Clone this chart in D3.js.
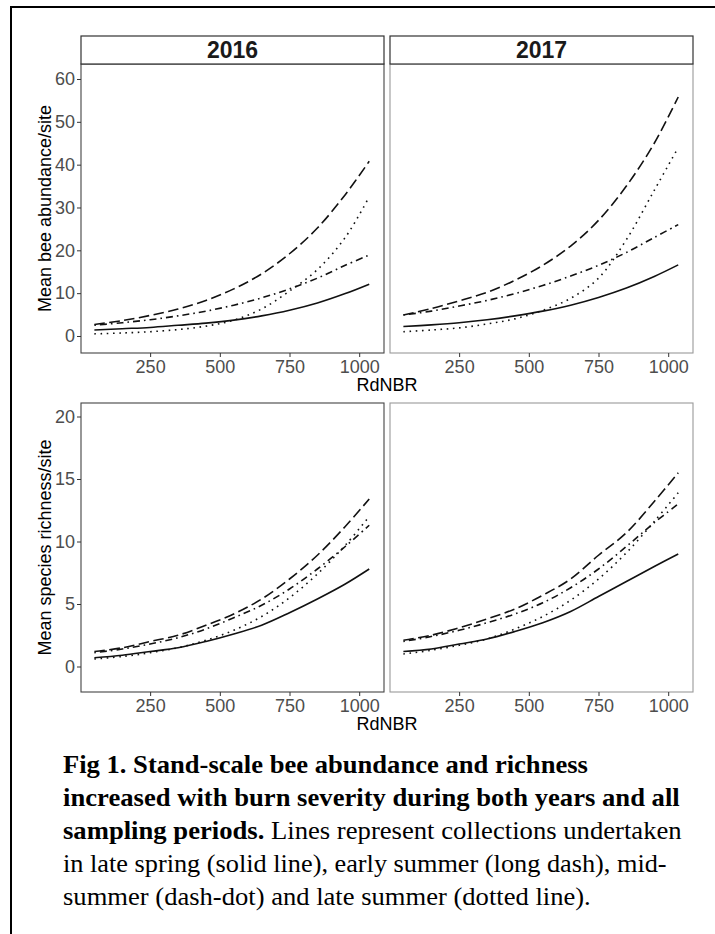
<!DOCTYPE html>
<html>
<head>
<meta charset="utf-8">
<script src="https://cdn.jsdelivr.net/npm/d3@7"></script>
<style>
  html, body { margin: 0; padding: 0; background: #fff; }
  svg { display: block; }
</style>
</head>
<body>
<div id="chart"></div>
<script>
// valores (RdNBR vs. media por sitio)
const rdnbr = [50, 150, 250, 350, 450, 550, 650, 750, 850, 950, 1036];
const years = ['2016', '2017'];
const periods = ['lateSpring', 'earlySummer', 'midSummer', 'lateSummer'];
const xTicks = [250, 500, 750, 1000];
const abunTicks = [0, 10, 20, 30, 40, 50, 60];
const richTicks = [0, 5, 10, 15, 20];

const abun2016_lateSpring  = [1.4, 1.7, 2.0, 2.5, 3.0, 3.7, 4.7, 6.0, 7.7, 9.9, 12.1];
const abun2016_earlySummer = [2.7, 3.6, 4.8, 6.3, 8.3, 11.0, 14.5, 19.2, 25.2, 33.0, 40.8];
const abun2016_midSummer   = [2.5, 3.1, 3.8, 4.7, 5.8, 7.2, 8.9, 11.0, 13.5, 16.5, 18.9];
const abun2016_lateSummer  = [0.5, 0.7, 1.0, 1.5, 2.3, 3.7, 6.3, 10.5, 15.5, 23.0, 32.5];

const abun2017_lateSpring  = [2.2, 2.6, 3.1, 3.8, 4.7, 5.8, 7.2, 9.0, 11.2, 13.9, 16.6];
const abun2017_earlySummer = [4.9, 6.4, 8.2, 10.2, 13.0, 16.5, 21.0, 27.0, 35.0, 45.0, 55.8];
const abun2017_midSummer   = [4.9, 5.8, 7.0, 8.3, 9.9, 11.8, 14.0, 16.5, 19.5, 23.0, 26.0];
const abun2017_lateSummer  = [1.0, 1.4, 1.9, 2.8, 4.0, 6.0, 8.8, 13.5, 22.5, 34.0, 44.0];

const rich2016_lateSpring  = [0.7, 0.9, 1.2, 1.5, 2.0, 2.6, 3.3, 4.3, 5.4, 6.6, 7.8];
const rich2016_earlySummer = [1.2, 1.5, 2.0, 2.5, 3.3, 4.2, 5.4, 7.0, 8.9, 11.2, 13.4];
const rich2016_midSummer   = [1.1, 1.4, 1.8, 2.3, 3.0, 3.9, 4.9, 6.2, 7.8, 9.6, 11.3];
const rich2016_lateSummer  = [0.6, 0.8, 1.1, 1.5, 2.1, 2.9, 4.0, 5.5, 7.4, 9.7, 12.0];

const rich2017_lateSpring  = [1.2, 1.4, 1.8, 2.2, 2.8, 3.5, 4.4, 5.6, 6.8, 8.0, 9.0];
const rich2017_earlySummer = [2.1, 2.5, 3.1, 3.8, 4.6, 5.7, 7.0, 8.9, 10.7, 13.2, 15.5];
const rich2017_midSummer   = [2.0, 2.4, 2.9, 3.5, 4.2, 5.1, 6.3, 7.8, 9.6, 11.5, 13.0];
const rich2017_lateSummer  = [1.0, 1.3, 1.7, 2.2, 3.0, 4.0, 5.3, 7.0, 9.1, 11.6, 13.9];

const captionLines = [
  [{ t: 'Fig 1. Stand-scale bee abundance and richness', b: true }],
  [{ t: 'increased with burn severity during both years and all', b: true }],
  [{ t: 'sampling periods.', b: true }, { t: ' Lines represent collections undertaken', b: false }],
  [{ t: 'in late spring (solid line), early summer (long dash), mid-', b: false }],
  [{ t: 'summer (dash-dot) and late summer (dotted line).', b: false }]
];

(function () {
  const W = 715, H = 934;
  const dash = {
    lateSpring: null,
    earlySummer: '10.5 4.5',
    midSummer: '1.6 4 7 4',
    lateSummer: '1.6 4.6'
  };
  const rows = [
    { key: 'abun', title: 'Mean bee abundance/site', y0: 64, y1: 353, domain: [-3.97, 63.5], ticks: abunTicks,
      data: {
        '2016': [abun2016_lateSpring, abun2016_earlySummer, abun2016_midSummer, abun2016_lateSummer],
        '2017': [abun2017_lateSpring, abun2017_earlySummer, abun2017_midSummer, abun2017_lateSummer]
      } },
    { key: 'rich', title: 'Mean species richness/site', y0: 403, y1: 692, domain: [-2.04, 21.08], ticks: richTicks,
      data: {
        '2016': [rich2016_lateSpring, rich2016_earlySummer, rich2016_midSummer, rich2016_lateSummer],
        '2017': [rich2017_lateSpring, rich2017_earlySummer, rich2017_midSummer, rich2017_lateSummer]
      } }
  ];
  const cols = [{ x0: 81, x1: 384 }, { x0: 390, x1: 693 }];

  const svg = d3.select('#chart').append('svg').attr('width', W).attr('height', H);
  svg.append('rect').attr('width', W).attr('height', H).attr('fill', '#fff');

  // marco exterior
  svg.append('rect').attr('x', 11).attr('y', 7).attr('width', W + 20).attr('height', H + 20)
    .attr('fill', 'none').attr('stroke', '#000').attr('stroke-width', 2);

  const font = "'Liberation Sans', Arial, sans-serif";
  const serif = "'Liberation Serif', 'Times New Roman', serif";

  rows.forEach((row, ri) => {
    const y = d3.scaleLinear().domain(row.domain).range([row.y1, row.y0]);
    cols.forEach((col, ci) => {
      const yr = years[ci];
      const x = d3.scaleLinear().domain([2, 1089]).range([col.x0, col.x1]);
      const g = svg.append('g');
      const line = d3.line().x((d, i) => x(rdnbr[i])).y(d => y(d)).curve(d3.curveCatmullRom.alpha(0.5));

      row.data[yr].forEach((vals, pi) => {
        g.append('path').datum(vals).attr('d', line)
          .attr('fill', 'none').attr('stroke', '#111').attr('stroke-width', 1.6)
          .attr('stroke-dasharray', dash[periods[pi]]);
      });

      // borde del panel
      g.append('rect').attr('x', col.x0).attr('y', row.y0)
        .attr('width', col.x1 - col.x0).attr('height', row.y1 - row.y0)
        .attr('fill', 'none').attr('stroke', ci === 0 ? '#444' : '#9a9a9a').attr('stroke-width', 1.1);

      // eje x
      const ax = g.append('g').attr('transform', `translate(0,${row.y1})`)
        .call(d3.axisBottom(x).tickValues(xTicks).tickFormat(d3.format('d')).tickSize(4).tickPadding(3));
      ax.select('.domain').remove();
      ax.selectAll('line').attr('stroke', '#333');
      ax.selectAll('text').attr('fill', '#4d4d4d').style('font-family', font).style('font-size', '18px');

      if (ci === 0) {
        const ay = g.append('g').attr('transform', `translate(${col.x0},0)`)
          .call(d3.axisLeft(y).tickValues(row.ticks).tickSize(4).tickPadding(2));
        ay.select('.domain').remove();
        ay.selectAll('line').attr('stroke', '#333');
        ay.selectAll('text').attr('fill', '#4d4d4d').style('font-family', font).style('font-size', '18px');
      }

      if (ri === 0) {
        svg.append('rect').attr('x', col.x0).attr('y', 36).attr('width', col.x1 - col.x0).attr('height', 28)
          .attr('fill', '#fff').attr('stroke', '#333').attr('stroke-width', 1.2);
        svg.append('text').attr('x', (col.x0 + col.x1) / 2).attr('y', 50)
          .attr('text-anchor', 'middle').attr('dominant-baseline', 'central')
          .style('font-family', font).style('font-size', '23px').style('font-weight', 'bold')
          .attr('fill', '#1a1a1a').text(yr);
      }
    });

    svg.append('text').attr('transform', `translate(45,${(row.y0 + row.y1) / 2}) rotate(-90)`)
      .attr('text-anchor', 'middle').attr('dominant-baseline', 'central')
      .style('font-family', font).style('font-size', '18px').attr('fill', '#000').text(row.title);

    svg.append('text').attr('x', 387).attr('y', row.y1 + 32).attr('text-anchor', 'middle')
      .attr('dominant-baseline', 'central')
      .style('font-family', font).style('font-size', '18px').attr('fill', '#000').text('RdNBR');
  });

  // leyenda de la figura
  const capX = 63;
  const capBase = [773, 806, 839, 872, 905];
  const capRight = [588, 680, 682, 667, 591];
  captionLines.forEach((parts, i) => {
    const t = svg.append('text').attr('x', 0).attr('y', 0)
      .style('font-family', serif).style('font-size', '25px').attr('fill', '#000');
    parts.forEach(p => t.append('tspan').style('font-weight', p.b ? 'bold' : 'normal').text(p.t));
    const w = t.node().getComputedTextLength();
    const s = (capRight[i] - capX) / w;
    t.attr('transform', `translate(${capX},${capBase[i]}) scale(${s},1)`);
  });
})();
</script>
</body>
</html>
